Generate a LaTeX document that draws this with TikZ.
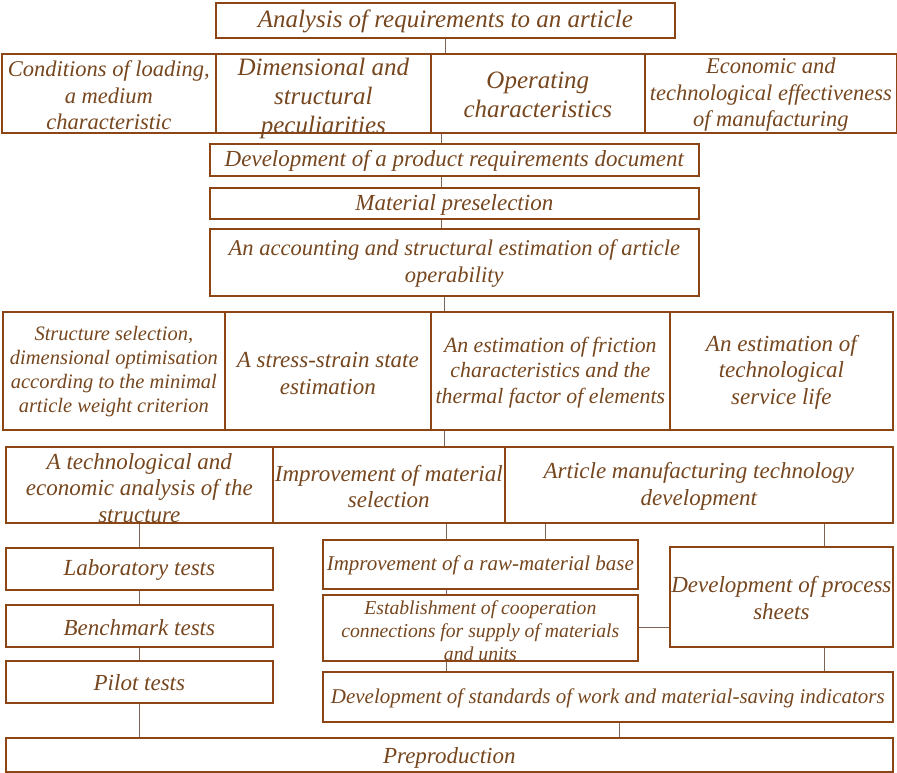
\documentclass[tikz,border=0pt]{standalone}
\usepackage{fontspec}
\setmainfont{Liberation Serif}
\definecolor{bordc}{RGB}{140,70,22}
\definecolor{textc}{RGB}{118,70,30}
\definecolor{connc}{RGB}{125,100,85}
\begin{document}
\begin{tikzpicture}[x=1pt,y=-1pt,
  box/.style={draw=bordc, line width=1.7pt, inner sep=0pt, anchor=north west, fill=none},
  txt/.style={text=textc, align=center, inner sep=0pt},
  fA/.style={font=\itshape\fontsize{25}{29}\selectfont},
  fB/.style={font=\itshape\fontsize{22.5}{26.5}\selectfont},
  fC/.style={font=\itshape\fontsize{23}{26.5}\selectfont},
  fD/.style={font=\itshape\fontsize{20.5}{24}\selectfont},
  fE/.style={font=\itshape\fontsize{21.8}{25.5}\selectfont},
  fF/.style={font=\itshape\fontsize{21}{24}\selectfont},
  fG/.style={font=\itshape\fontsize{19.7}{22.7}\selectfont},
  conn/.style={draw=connc, line width=1pt}]
\useasboundingbox (0,0) rectangle (897,773);
% boxes
\node[box, minimum width=459pt, minimum height=35pt] (a) at (215,2) {};
\node[box, minimum width=214pt, minimum height=79pt] (r2a) at (1,53) {};
\node[box, minimum width=215pt, minimum height=79pt] (r2b) at (215,53) {};
\node[box, minimum width=214pt, minimum height=79pt] (r2c) at (430,53) {};
\node[box, minimum width=252pt, minimum height=79pt] (r2d) at (644,53) {};
\node[box, minimum width=489pt, minimum height=32pt] (dev) at (209,143) {};
\node[box, minimum width=489pt, minimum height=31pt] (mat) at (209,187) {};
\node[box, minimum width=489pt, minimum height=67pt] (acc) at (209,228) {};
\node[box, minimum width=222pt, minimum height=118pt] (r4a) at (2,311) {};
\node[box, minimum width=206pt, minimum height=118pt] (r4b) at (224,311) {};
\node[box, minimum width=239pt, minimum height=118pt] (r4c) at (430,311) {};
\node[box, minimum width=223pt, minimum height=118pt] (r4d) at (669,311) {};
\node[box, minimum width=267pt, minimum height=76pt] (r5a) at (5,446) {};
\node[box, minimum width=232pt, minimum height=76pt] (r5b) at (272,446) {};
\node[box, minimum width=388pt, minimum height=76pt] (r5c) at (504,446) {};
\node[box, minimum width=267pt, minimum height=42pt] (lab) at (5,547) {};
\node[box, minimum width=267pt, minimum height=42pt] (bench) at (5,604) {};
\node[box, minimum width=267pt, minimum height=42pt] (pilot) at (5,660) {};
\node[box, minimum width=887pt, minimum height=34pt] (prep) at (5,737) {};
\node[box, minimum width=315pt, minimum height=49pt] (raw) at (322,539) {};
\node[box, minimum width=315pt, minimum height=66pt] (est) at (322,594) {};
\node[box, minimum width=570pt, minimum height=50pt] (std) at (322,671) {};
\node[box, minimum width=223pt, minimum height=100pt] (proc) at (669,546) {};
% texts
\node[txt, fA, yshift=-1pt] (ta) at (a.center) {Analysis of requirements to an article};
\node[txt, fB, yshift=-2pt] (t2a) at (r2a.center) {Conditions of loading,\\a medium\\characteristic};
\node[txt, fA, yshift=-5.5pt] (t2b) at (r2b.center) {Dimensional and\\structural\\peculiarities};
\node[txt, fA, yshift=-1.5pt] (t2c) at (r2c.center) {Operating\\characteristics};
\node[txt, fB, yshift=-1.5pt] (t2d) at (r2d.center) {Economic and\\technological effectiveness\\of manufacturing};
\node[txt, fC, yshift=-1pt] (tdev) at (dev.center) {Development of a product requirements document};
\node[txt, fC, yshift=-1.5pt] (tmat) at (mat.center) {Material preselection};
\node[txt, fB, yshift=-1pt] (tacc) at (acc.center) {An accounting and structural estimation of article\\operability};
\node[txt, fD, yshift=-1pt] (t4a) at (r4a.center) {Structure selection,\\dimensional optimisation\\according to the minimal\\article weight criterion};
\node[txt, fC, yshift=-2.5pt] (t4b) at (r4b.center) {A stress-strain state\\estimation};
\node[txt, fE, yshift=-1.5pt] (t4c) at (r4c.center) {An estimation of friction\\characteristics and the\\thermal factor of elements};
\node[txt, fC, yshift=-1pt] (t4d) at (r4d.center) {An estimation of\\technological\\service life};
\node[txt, fC, yshift=-3pt] (t5a) at (r5a.center) {A technological and\\economic analysis of the\\structure};
\node[txt, fC, yshift=-1.5pt] (t5b) at (r5b.center) {Improvement of material\\selection};
\node[txt, fC, yshift=-1.5pt] (t5c) at (r5c.center) {Article manufacturing technology\\development};
\node[txt, fC, yshift=-1pt] (tlab) at (lab.center) {Laboratory tests};
\node[txt, fC, yshift=-2pt] (tbench) at (bench.center) {Benchmark tests};
\node[txt, fC, yshift=-1pt] (tpilot) at (pilot.center) {Pilot tests};
\node[txt, fC, yshift=-3pt] (tprep) at (prep.center) {Preproduction};
\node[txt, fF, yshift=-0.5pt] (traw) at (raw.center) {Improvement of a raw-material base};
\node[txt, fG, yshift=-3pt] (test) at (est.center) {Establishment of cooperation\\connections for supply of materials\\and units};
\node[txt, fF, yshift=-1pt] (tstd) at (std.center) {Development of standards of work and material-saving indicators};
\node[txt, fC, yshift=-1pt] (tproc) at (proc.center) {Development of process\\sheets};
% connectors
\draw[conn] (a.south) -- (a.south |- r2c.north);
\draw[conn] ([xshift=-12.5pt]dev.north) -- ([xshift=-12.5pt]dev.north |- r2c.south);
\draw[conn] ([xshift=-12.5pt]dev.south) -- ([xshift=-12.5pt]mat.north);
\draw[conn] ([xshift=-12.5pt]mat.south) -- ([xshift=-12.5pt]acc.north);
\draw[conn] ([xshift=-9.5pt]acc.south) -- ([xshift=-9.5pt]acc.south |- r4c.north);
\draw[conn] ([xshift=-9.5pt]acc.south |- r4c.south) -- ([xshift=-9.5pt]acc.south |- r5b.north);
\draw[conn] (lab.north) -- (lab.north |- r5a.south);
\draw[conn] (lab.south) -- (bench.north);
\draw[conn] (bench.south) -- (pilot.north);
\draw[conn] (pilot.south) -- (pilot.south |- prep.north);
\draw[conn] ([xshift=-33.5pt]raw.north) -- ([xshift=-33.5pt]raw.north |- r5b.south);
\draw[conn] ([xshift=65.5pt]raw.north) -- ([xshift=65.5pt]raw.north |- r5c.south);
\draw[conn] ([xshift=-33.5pt]raw.south) -- ([xshift=-33.5pt]est.north);
\draw[conn] ([xshift=-33.5pt]est.south) -- ([xshift=-33.5pt]est.south |- std.north);
\draw[conn] ([xshift=43.5pt]proc.north) -- ([xshift=43.5pt]proc.north |- r5c.south);
\draw[conn] ([xshift=43.5pt]proc.south) -- ([xshift=43.5pt]proc.south |- std.north);
\draw[conn] (est.east) -- (est.east -| proc.west);
\draw[conn] ([xshift=12pt]std.south) -- ([xshift=12pt]std.south |- prep.north);
\end{tikzpicture}
\end{document}
